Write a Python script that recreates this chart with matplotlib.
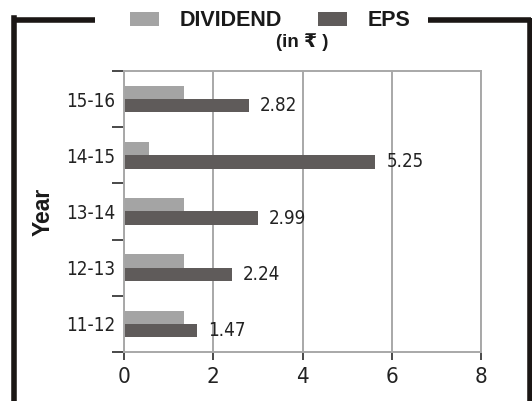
import matplotlib
matplotlib.use("Agg")
import matplotlib.pyplot as plt
from matplotlib.patches import Patch
from matplotlib.lines import Line2D
import numpy as np

years = ["11-12", "12-13", "13-14", "14-15", "15-16"]
dividend = [1.34, 1.34, 1.34, 0.57, 1.34]
eps = [1.63, 2.41, 3.00, 5.63, 2.79]
eps_labels = ["1.47", "2.24", "2.99", "5.25", "2.82"]
xticks = [0, 2, 4, 6, 8]

C_DIV = "#a4a4a4"
C_EPS = "#5f5b5a"
C_GRID = "#a8a8a8"
C_TICK = "#2a2a2a"
C_FRAME = "#1b1715"

W, H = 532, 401
fig = plt.figure(figsize=(W / 100, H / 100), dpi=100)
ax = fig.add_axes([124 / W, 1 - 352 / H, (481 - 124) / W, (352 - 71) / H])

narrow = ["DejaVu Sans"]
bold = ["Liberation Sans", "DejaVu Sans"]
ST = "condensed"

y = np.arange(len(years))
h = 0.237
ax.barh(y + h / 2, dividend, height=h, color=C_DIV)
bars = ax.barh(y - h / 2, eps, height=h, color=C_EPS)
lbls = ax.bar_label(bars, labels=eps_labels, padding=8,
                    fontsize=13.5, family=narrow, fontstretch=ST, color="#222222")

ax.set_xlim(0, 8)
ax.set_ylim(-0.5, len(years) - 0.5)
ax.set_xticks(xticks)
ax.set_xticklabels([str(t) for t in xticks], family=narrow, fontstretch=ST,
                   fontsize=16, color="#222222")
ax.set_yticks(y)
ax.set_yticklabels(years, family=narrow, fontstretch=ST, fontsize=13.5, color="#222222")
ax.set_yticks(np.arange(-0.5, len(years), 1.0), minor=True)
ax.tick_params(axis="y", which="major", length=0, pad=6.5)
ax.tick_params(axis="y", which="minor", length=9, width=1.2, color=C_TICK, direction="out")
ax.tick_params(axis="x", which="major", length=6, width=1.2, color=C_TICK, direction="out", pad=5)

ax.xaxis.grid(True, color=C_GRID, linewidth=1.4)
ax.set_axisbelow(True)
for s in ax.spines.values():
    s.set_color(C_GRID)
    s.set_linewidth(1.4)

ax.set_ylabel("Year", family=bold, fontweight="bold", fontsize=16.5, color="#1a1a1a", labelpad=8)

# legend and subtitle
handles = [Patch(facecolor=C_DIV, edgecolor="none", label="DIVIDEND"),
           Patch(facecolor=C_EPS, edgecolor="none", label="EPS")]
leg = fig.legend(handles=handles, loc="center", bbox_to_anchor=(270 / W, 1 - 21 / H),
                 ncol=2, frameon=False, prop={"family": bold, "weight": "bold", "size": 15.5},
                 handlelength=1.35, handleheight=0.6, handletextpad=0.95, columnspacing=1.7)
for t in leg.get_texts():
    t.set_color("#1a1a1a")
fig.text(302 / W, 1 - 42 / H, "(in ₹ )", ha="center", va="center",
         family=bold, fontweight="bold", fontsize=13.5, color="#1a1a1a")

# frame lines
lw = 4.0
fig.add_artist(Line2D([14 / W, 14 / W], [0, 1 - 18 / H], transform=fig.transFigure,
                      color=C_FRAME, linewidth=lw, solid_capstyle="projecting"))
fig.add_artist(Line2D([14 / W, 95 / W], [1 - 20 / H, 1 - 20 / H], transform=fig.transFigure,
                      color=C_FRAME, linewidth=lw, solid_capstyle="butt"))
fig.add_artist(Line2D([428 / W, 531 / W], [1 - 20 / H, 1 - 20 / H], transform=fig.transFigure,
                      color=C_FRAME, linewidth=lw, solid_capstyle="butt"))
fig.add_artist(Line2D([530 / W, 530 / W], [0, 1 - 18 / H], transform=fig.transFigure,
                      color=C_FRAME, linewidth=lw, solid_capstyle="butt"))

fig.savefig("out.png", dpi=100)
